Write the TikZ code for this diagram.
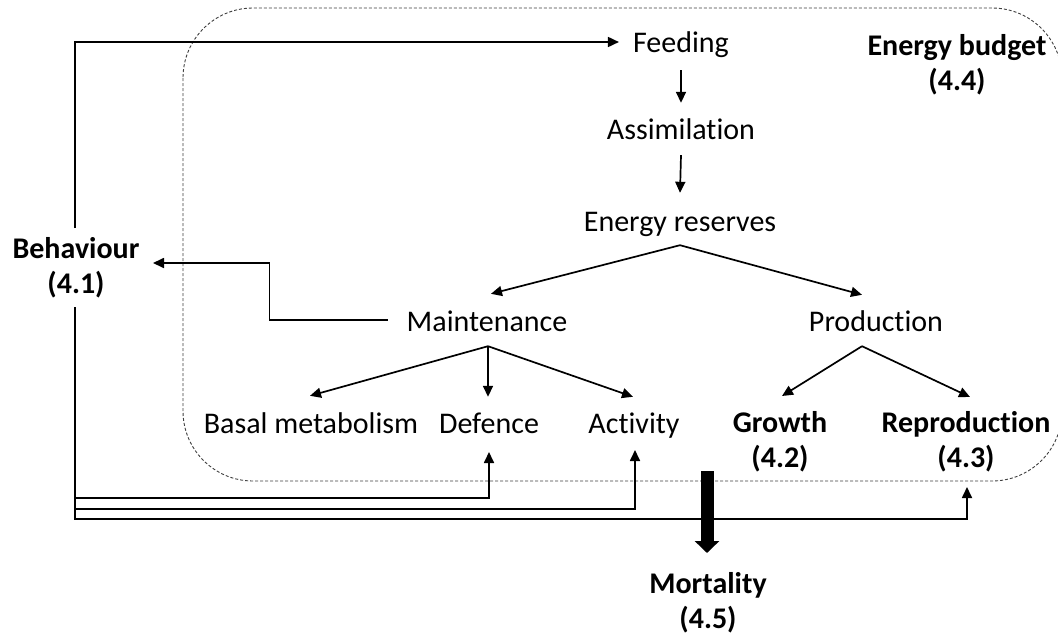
\documentclass[tikz,border=0pt]{standalone}
\usepackage{fontspec}
\setmainfont{Carlito}[Ligatures=NoCommon]
\usetikzlibrary{arrows.meta,calc}
\begin{document}
\begin{tikzpicture}[x=1pt,y=-1pt,
  lbl/.style={inner sep=0pt, anchor=base, font=\fontsize{30}{35}\selectfont, text height=20pt, text depth=6pt},
  blbl/.style={inner sep=0pt, anchor=base, font=\fontsize{30}{35}\selectfont\bfseries, align=center},
  conn/.style={line width=1.7pt, -{Triangle[length=11pt,width=10pt]}},
  budget/.style={draw=black!75, dash pattern=on 3pt off 2pt, line width=0.9pt, rounded corners=70pt},
  mortarrow/.style={line width=13pt, -{Triangle[length=12pt,width=24pt]}}
]
\useasboundingbox (0,0) rectangle (1058,637);
\clip (0,0) rectangle (1058,637);
\fill[white] (0,0) rectangle (1058,637);

\draw[budget] (183,8) rectangle (1062,481);

\node[lbl] (feed) at (681,52) {Feeding};
\node[lbl] (assim) at (681,139) {Assimilation};
\node[lbl] (res) at (680,231) {Energy reserves};
\node[lbl] (maint) at (487,331) {Maintenance};
\node[lbl] (prod) at (876,331) {Production};
\node[lbl] (basal) at (311,433) {Basal metabolism};
\node[lbl] (def) at (489,433) {Defence};
\node[lbl] (act) at (634,433) {Activity};
\node[blbl] (growth) at (780,467) {Growth\\(4.2)};
\node[blbl] (repro) at (966,467) {Reproduction\\(4.3)};
\node[blbl] (eb) at (957,90) {Energy budget\\(4.4)};
\node[blbl] (beh) at (76,293) {Behaviour\\(4.1)};
\node[blbl] (mort) at (708,628) {Mortality\\(4.5)};

\draw[conn] ($(feed.south)+(0,12)$) -- ($(assim.north)+(0,-16)$);
\draw[conn] ($(assim.south)+(0,10)$) -- ($(res.north)+(0,-18)$);
\coordinate (resapex) at ($(res.south)+(0,8)$);
\draw[conn] (resapex) -- ($(maint.north)+(4,-17)$);
\draw[conn] (resapex) -- ($(prod.north)+(-14,-16)$);
\coordinate (mapex) at ($(maint.south)+(1,9)$);
\draw[conn] (mapex) -- ($(basal.north)+(-1,-17)$);
\draw[conn] (mapex) -- ($(def.north)+(-1,-16)$);
\draw[conn] (mapex) -- ($(act.north)+(-1,-16)$);
\coordinate (papex) at ($(prod.south)+(-14,9)$);
\draw[conn] (papex) -- ($(growth.base)+(2,-71)$);
\draw[conn] (papex) -- ($(repro.base)+(4,-70)$);

\draw[conn] ($(beh.base)+(-1,-65)$) |- ($(feed.west)+(-14,-3)$);
\draw[conn] ($(maint.west)+(-19,-4)$) -- ++(-118,0) |- ($(beh.base)+(77,-30)$);
\coordinate (bl) at ($(beh.base)+(-1,14)$);
\draw[conn] (bl) |- ($(def.base)+(0,65)$) -- ($(def.base)+(0,19)$);
\draw[conn] (bl) |- ($(act.base)+(1,76)$) -- ($(act.base)+(1,17)$);
\draw[conn] (bl) |- ($(repro.base)+(1,52)$) -- ($(repro.base)+(1,20)$);

\coordinate (mtop) at ($(mort.base)+(-1,-157)$);
\draw[mortarrow] (mtop) -- ($(mort.base)+(-1,-75)$);
\end{tikzpicture}
\end{document}
